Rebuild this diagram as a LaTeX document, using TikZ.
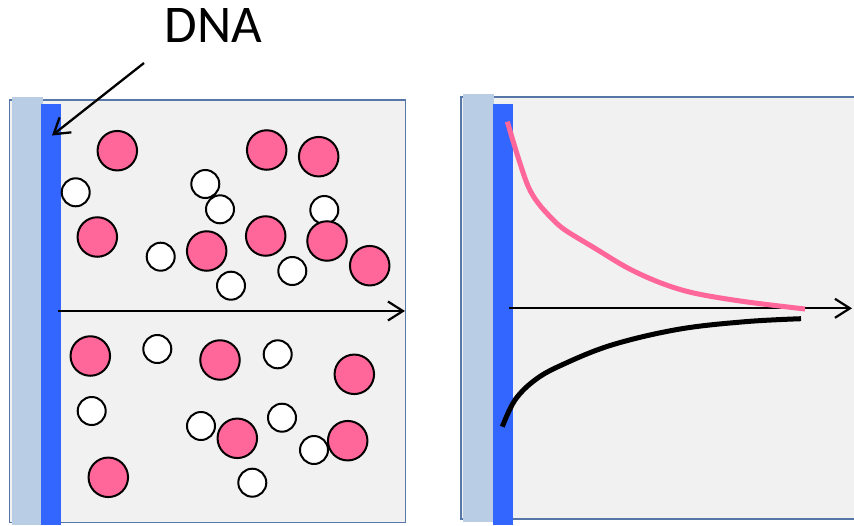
\documentclass[tikz,border=0pt]{standalone}
\usepackage{fontspec}
\setmainfont{Carlito}
\usetikzlibrary{arrows.meta}
\definecolor{pinkc}{HTML}{FF6699}
\definecolor{boxgray}{HTML}{F1F1F1}
\definecolor{lblue}{HTML}{B9CDE4}
\definecolor{dblue}{HTML}{3366FF}
\definecolor{framec}{HTML}{5677A8}
\begin{document}
\begin{tikzpicture}[x=1pt,y=-1pt,
  pinkball/.style={circle,draw=black,fill=pinkc,line width=2pt,minimum size=39.5pt,inner sep=0pt},
  whiteball/.style={circle,draw=black,fill=white,line width=2pt,minimum size=28pt,inner sep=0pt},
  panel/.style={fill=boxgray,draw=framec,line width=1.2pt},
  lstrip/.style={fill=lblue,draw=none},
  dstrip/.style={fill=dblue,draw=none},
  axisarrow/.style={line width=2.2pt,-{Straight Barb[length=15pt,width=19pt,line width=2.2pt]}},
  curve/.style={line width=5pt}]
\useasboundingbox (0,0) rectangle (854,525);
% left panel
\path[panel] (9.5,100) rectangle (405.5,522.5);
\path[lstrip] (12,97) rectangle (43,525);
\path[dstrip] (41,104) rectangle (61,525);
% right panel
\fill[boxgray] (461,97) rectangle (856,519);
\draw[framec,line width=1.2pt] (856,97) -- (461,97) -- (461,519) -- (856,519);
\path[lstrip] (463,94) rectangle (494,522);
\path[dstrip] (493,104) rectangle (513,525);
% label
\node[anchor=base,inner sep=0pt,font=\fontsize{53}{60}\selectfont] (dna) at (213.5,42.5) {DNA};
\coordinate (dnaS) at (144,63);
\coordinate (dnaT) at (52,135.5);
\draw[line width=2.3pt,-{Straight Barb[length=15pt,width=19pt,line width=2.3pt]}] (dnaS) -- (dnaT);
% white balls
\node[whiteball] (w1) at (75.7,192.3) {};
\node[whiteball] (w2) at (205.3,184) {};
\node[whiteball] (w3) at (220,209.3) {};
\node[whiteball] (w4) at (324.3,210) {};
\node[whiteball] (w5) at (160.7,256.7) {};
\node[whiteball] (w6) at (292.3,271) {};
\node[whiteball] (w7) at (231,285.7) {};
\node[whiteball] (w8) at (157.3,349) {};
\node[whiteball] (w9) at (277.7,354.3) {};
\node[whiteball] (w10) at (91.7,411) {};
\node[whiteball] (w11) at (201,426) {};
\node[whiteball] (w12) at (282,417.7) {};
\node[whiteball] (w13) at (314,450) {};
\node[whiteball] (w14) at (252.3,482.7) {};
% pink balls
\node[pinkball] (p1) at (117.3,150.7) {};
\node[pinkball] (p2) at (266.7,150) {};
\node[pinkball] (p3) at (318.7,156.7) {};
\node[pinkball] (p4) at (97.3,237) {};
\node[pinkball] (p5) at (206.7,251) {};
\node[pinkball] (p6) at (265.7,236) {};
\node[pinkball] (p7) at (327,241) {};
\node[pinkball] (p8) at (369.7,265.7) {};
\node[pinkball] (p9) at (90.3,356) {};
\node[pinkball] (p10) at (220,360) {};
\node[pinkball] (p11) at (354.3,374.3) {};
\node[pinkball] (p12) at (237.3,438.3) {};
\node[pinkball] (p13) at (347.7,440.7) {};
\node[pinkball] (p14) at (108.3,477.3) {};
% left axis
\coordinate (la0) at (58,311);
\coordinate (la1) at (405,311);
\draw[axisarrow] (la0) -- (la1);
% right axis
\coordinate (ra0) at (509,308.3);
\coordinate (ra1) at (852,308.3);
\draw[axisarrow] (ra0) -- (ra1);
% curves
\draw[curve,pinkc] plot[smooth,tension=0.55] coordinates {(507.3,121.7) (518.3,158) (528.3,186.7) (538.3,203.3) (551.7,218.3) (565,230) (595,248.3) (628.3,268.3) (661.7,283.3) (695,293.3) (745,301.7) (805,309)};
\draw[curve,black] plot[smooth,tension=0.6] coordinates {(502.3,426.7) (515,400) (535,380) (561.7,365) (611.7,345) (678.3,329.3) (745,321.7) (801,318.7)};
\end{tikzpicture}
\end{document}
